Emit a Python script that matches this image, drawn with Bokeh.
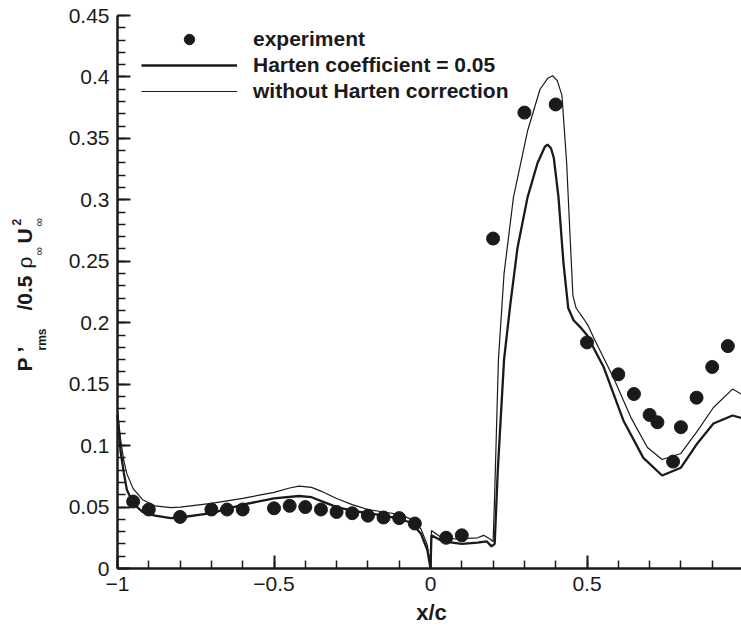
from bokeh.plotting import figure
from bokeh.models import (Range1d, SingleIntervalTicker, CustomJSTickFormatter,
                          Label, Legend, LegendItem)
from bokeh.embed import file_html
from bokeh.resources import INLINE

# ---------------- data ----------------
exp_x = [-0.95, -0.9, -0.8, -0.7, -0.65, -0.6, -0.5, -0.45, -0.4, -0.35, -0.3,
         -0.25, -0.2, -0.15, -0.1, -0.05, 0.05, 0.1, 0.2, 0.3, 0.4, 0.5, 0.6,
         0.65, 0.7, 0.725, 0.775, 0.8, 0.85, 0.9, 0.95]
exp_y = [0.0545, 0.048, 0.042, 0.048, 0.048, 0.048, 0.049, 0.051, 0.050, 0.048,
         0.046, 0.045, 0.043, 0.0415, 0.041, 0.0366, 0.025, 0.027, 0.2685, 0.371,
         0.3776, 0.184, 0.158, 0.142, 0.125, 0.119, 0.087, 0.115, 0.139, 0.164,
         0.181]

harten_x = [-1.0, -0.99, -0.98, -0.97, -0.95, -0.92, -0.88, -0.83, -0.8, -0.7,
            -0.6, -0.5, -0.42, -0.38, -0.33, -0.3, -0.25, -0.2, -0.15, -0.1,
            -0.06, -0.03, -0.01, 0.0, 0.003, 0.04, 0.1, 0.15, 0.18, 0.195,
            0.205, 0.215, 0.235, 0.255, 0.278, 0.31, 0.342, 0.365, 0.374, 0.385,
            0.394, 0.409, 0.425, 0.44, 0.457, 0.48, 0.5, 0.52, 0.553, 0.617,
            0.68, 0.74, 0.8, 0.853, 0.904, 0.965, 1.0]
harten_y = [0.125, 0.095, 0.078, 0.064, 0.053, 0.046, 0.043, 0.041, 0.0415, 0.045,
            0.052, 0.057, 0.059, 0.058, 0.053, 0.050, 0.047, 0.045, 0.043, 0.0405,
            0.037, 0.028, 0.015, 0.0, 0.027, 0.022, 0.020, 0.021, 0.022, 0.018,
            0.020, 0.08, 0.17, 0.215, 0.261, 0.302, 0.330, 0.343, 0.345, 0.342,
            0.334, 0.302, 0.248, 0.212, 0.202, 0.196, 0.190, 0.180, 0.164, 0.120,
            0.090, 0.0757, 0.082, 0.102, 0.118, 0.1245, 0.122]

noharten_x = [-1.0, -0.99, -0.98, -0.97, -0.95, -0.92, -0.88, -0.83, -0.8, -0.7,
              -0.6, -0.5, -0.45, -0.42, -0.38, -0.35, -0.3, -0.25, -0.2, -0.15,
              -0.1, -0.06, -0.03, -0.01, 0.0, 0.003, 0.03, 0.08, 0.15, 0.17,
              0.19, 0.2, 0.205, 0.217, 0.235, 0.265, 0.31, 0.35, 0.375, 0.39,
              0.405, 0.42, 0.435, 0.445, 0.455, 0.465, 0.49, 0.505, 0.521, 0.585,
              0.64, 0.693, 0.74, 0.8, 0.853, 0.904, 0.965, 1.0]
noharten_y = [0.128, 0.105, 0.088, 0.077, 0.065, 0.056, 0.051, 0.0495, 0.050, 0.053,
              0.057, 0.062, 0.0655, 0.067, 0.066, 0.063, 0.057, 0.052, 0.048, 0.046,
              0.044, 0.040, 0.032, 0.019, 0.0, 0.031, 0.026, 0.024, 0.025, 0.027,
              0.024, 0.022, 0.06, 0.17, 0.24, 0.302, 0.356, 0.390, 0.399, 0.401,
              0.397, 0.385, 0.330, 0.275, 0.222, 0.212, 0.203, 0.197, 0.188, 0.155,
              0.123, 0.0985, 0.0887, 0.0936, 0.112, 0.131, 0.146, 0.141]

legend_labels = ["experiment", "Harten coefficient = 0.05", "without Harten correction"]

X_LIM = (-1.0, 1.0)
Y_LIM = (0.0, 0.45)

# ---------------- figure ----------------
FONT = "Liberation Sans"
INK = "#1a1a1a"
W, H = 741, 632
FX0, FX1 = 117, 743        # pixel of x = -1 and x = 1
FY0, FY1 = 568, 15         # pixel of y = 0 and y = 0.45
sx = (FX1 - FX0) / (X_LIM[1] - X_LIM[0])
sy = (FY0 - FY1) / (Y_LIM[1] - Y_LIM[0])
x_range = Range1d(X_LIM[0] - FX0 / sx, X_LIM[0] + (W - FX0) / sx)
y_range = Range1d(Y_LIM[0] - (H - FY0) / sy, Y_LIM[0] + FY0 / sy)

p = figure(width=W, height=H, output_backend="svg", toolbar_location=None,
           x_range=x_range, y_range=y_range,
           min_border_left=0, min_border_right=0, min_border_top=0,
           min_border_bottom=0)
p.outline_line_color = None
p.xgrid.grid_line_color = None
p.ygrid.grid_line_color = None
p.background_fill_color = "white"
p.border_fill_color = "white"

p.xaxis.ticker = SingleIntervalTicker(interval=0.5, num_minor_ticks=5)
p.yaxis.ticker = SingleIntervalTicker(interval=0.05, num_minor_ticks=5)
p.xaxis.formatter = CustomJSTickFormatter(code="""
const v = Math.round(tick*10)/10;
if (v == 0) return "0";
return (v < 0 ? "\u2212" : "") + String(Math.abs(v));
""")
p.yaxis.formatter = CustomJSTickFormatter(code="""
const v = Math.round(tick*100)/100;
return v == 0 ? "0" : String(v);
""")
p.xaxis.fixed_location = Y_LIM[0]
p.yaxis.fixed_location = X_LIM[0]
p.xaxis.bounds = X_LIM
p.yaxis.bounds = Y_LIM

for ax in (p.xaxis[0], p.yaxis[0]):
    ax.axis_line_width = 2.5
    ax.axis_line_color = INK
    ax.major_tick_in = 13
    ax.major_tick_out = 0
    ax.minor_tick_in = 8
    ax.minor_tick_out = 0
    ax.major_tick_line_width = 2
    ax.minor_tick_line_width = 1.5
    ax.major_tick_line_color = INK
    ax.minor_tick_line_color = INK
    ax.major_label_text_font = FONT
    ax.major_label_text_font_size = "21px"
    ax.major_label_text_color = INK
    ax.major_label_standoff = 8
    ax.axis_label = None

# ---------------- glyphs ----------------
r_nh = p.line(noharten_x, noharten_y, line_color=INK, line_width=1.2)
r_h = p.line(harten_x, harten_y, line_color=INK, line_width=2.3)
r_e = p.scatter(exp_x, exp_y, size=13, marker="circle", fill_color=INK,
                line_color=INK)

legend = Legend(items=[LegendItem(label=legend_labels[0], renderers=[r_e]),
                       LegendItem(label=legend_labels[1], renderers=[r_h]),
                       LegendItem(label=legend_labels[2], renderers=[r_nh])],
                location=(141, H - 104), border_line_color=None,
                background_fill_alpha=0, padding=0, margin=0,
                glyph_width=96, glyph_height=26, spacing=0, label_standoff=16,
                label_height=26,
                label_text_font=FONT, label_text_font_size="21px",
                label_text_font_style="bold", label_text_color=INK)
p.add_layout(legend, "center")

# ---------------- axis titles ----------------
p.add_layout(Label(x=431, y=H - 612, x_units="screen", y_units="screen",
                   text="x/c", text_align="center", text_baseline="alphabetic",
                   text_font=FONT, text_font_size="22px", text_font_style="bold",
                   text_color=INK))

ANG = 1.5707963
pieces = [
    # text, baseline x (px), start y (px from top), size, style
    ("P", 24, 371, "21px", "bold"),
    ("\u2019", 24, 352, "21px", "bold"),
    ("rms", 41, 350, "12px", "bold"),
    ("/0.5", 24, 310, "21px", "bold"),
    ("\u03c1", 24, 268, "21px", "normal"),
    ("\u221e", 38, 255, "12px", "normal"),
    ("U", 24, 243, "21px", "bold"),
    ("2", 16, 225, "12px", "bold"),
    ("\u221e", 38, 226, "12px", "normal"),
]
for t, bx, by, fs, st in pieces:
    p.add_layout(Label(x=bx, y=H - by, x_units="screen", y_units="screen", text=t,
                       angle=ANG, text_align="left", text_baseline="alphabetic",
                       text_font=FONT, text_font_size=fs, text_font_style=st,
                       text_color=INK))

open("out.html", "w").write(file_html(p, INLINE))
